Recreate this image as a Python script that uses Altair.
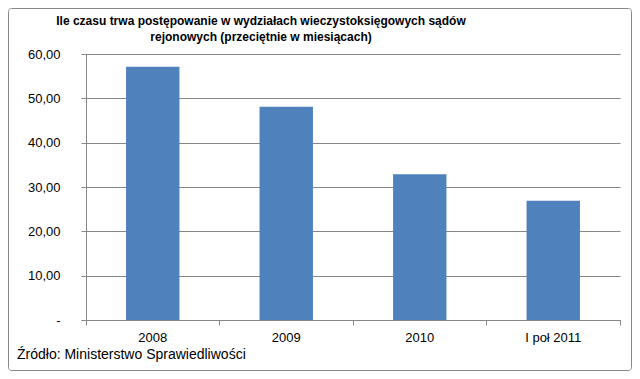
import altair as alt
import pandas as pd

categories = ["2008", "2009", "2010", "I poł 2011"]
values = [57.1, 48.1, 32.9, 26.9]
y_ticks = [0, 10, 20, 30, 40, 50, 60]
title_lines = [
    "Ile czasu trwa postępowanie w wydziałach wieczystoksięgowych sądów",
    "rejonowych (przeciętnie w miesiącach)",
]
source_text = ["Źródło:  Ministerstwo Sprawiedliwości"]

df = pd.DataFrame({"okres": categories, "wartosc": values})

W, H = 534, 266
FONT = "Liberation Sans"
GRID = "#868686"

bars = alt.Chart(df).mark_bar(
    color="#4F81BD", width=alt.RelativeBandSize(0.4)
).encode(
    x=alt.X(
        "okres:N",
        sort=categories,
        scale=alt.Scale(paddingInner=0, paddingOuter=0),
        axis=alt.Axis(
            title=None, labelAngle=0, bandPosition=1, tickExtra=True,
            tickSize=5, tickColor=GRID, domainColor=GRID,
            labelFont=FONT, labelFontSize=13, labelColor="black",
            labelPadding=6, grid=False,
        ),
    ),
    y=alt.Y(
        "wartosc:Q",
        scale=alt.Scale(domain=[0, 60], nice=False),
        axis=alt.Axis(
            title=None, values=y_ticks, grid=True, gridColor=GRID,
            tickColor=GRID, domainColor=GRID, tickSize=5,
            labelFont=FONT, labelFontSize=13, labelColor="black",
            labelPadding=21,
            labelExpr="datum.value == 0 ? '-\u00a0\u00a0' : replace(format(datum.value, '.2f'), '.', ',')",
        ),
    ),
)


def text_line(txt, x, y, align, size, weight):
    return alt.Chart(pd.DataFrame({"t": [txt]})).mark_text(
        align=align, baseline="alphabetic", font=FONT, fontSize=size,
        fontWeight=weight, color="black",
    ).encode(text="t:N", x=alt.value(x), y=alt.value(y))


title1 = text_line(title_lines[0], 175, -29, "center", 12, "bold")
title2 = text_line(title_lines[1], 175, -13, "center", 12, "bold")
source = text_line(source_text[0], -69, 305, "left", 14, "normal")

border = alt.Chart(pd.DataFrame({"b": [1]})).mark_rect(
    filled=False, stroke="#888888", strokeWidth=1, cornerRadius=3
).encode(x=alt.value(-77.5), x2=alt.value(W + 11.5), y=alt.value(-45.5), y2=alt.value(H + 50.5))

chart = alt.layer(bars, title1, title2, source, border).properties(
    width=W,
    height=H,
    autosize=alt.AutoSizeParams(type="none"),
    padding={"left": 78, "top": 46, "right": 12, "bottom": 51},
    background="white",
).configure_view(stroke=None)

chart.save("out.html", embed_options={"renderer": "svg", "actions": False})
